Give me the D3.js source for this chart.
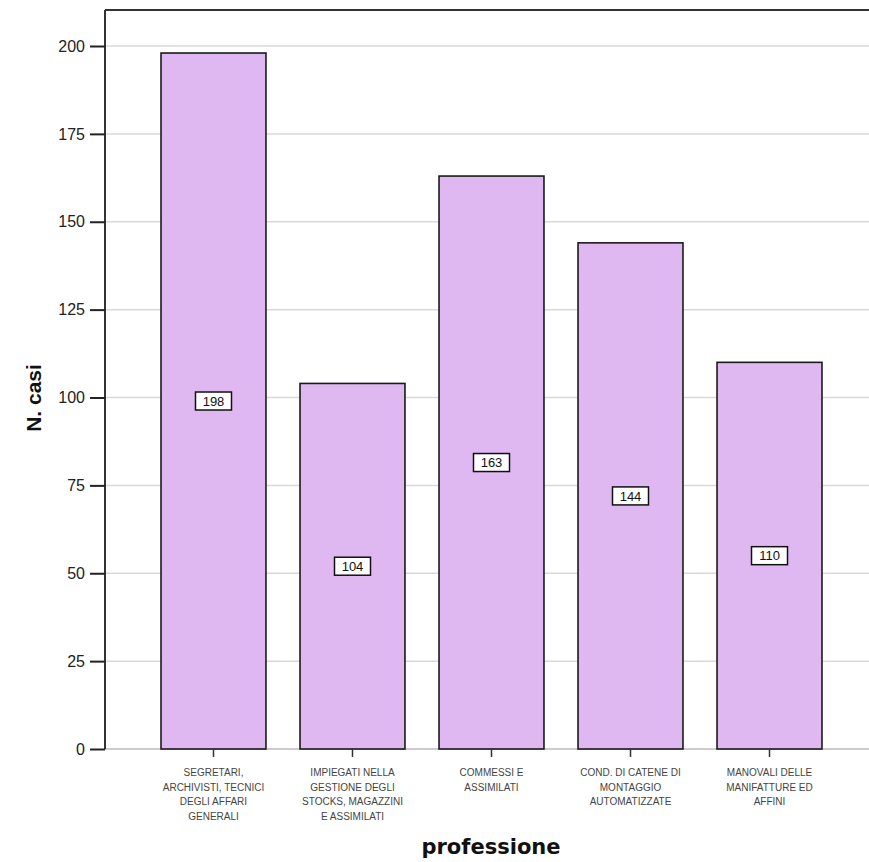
<!DOCTYPE html>
<html><head><meta charset="utf-8">
<script src="https://cdn.jsdelivr.net/npm/d3@7"></script>
<style>body{margin:0;background:#fff;} svg{display:block;}</style>
</head><body>
<script>
const categories = [
  ["SEGRETARI,","ARCHIVISTI, TECNICI","DEGLI AFFARI","GENERALI"],
  ["IMPIEGATI NELLA","GESTIONE DEGLI","STOCKS, MAGAZZINI","E ASSIMILATI"],
  ["COMMESSI E","ASSIMILATI"],
  ["COND. DI CATENE DI","MONTAGGIO","AUTOMATIZZATE"],
  ["MANOVALI DELLE","MANIFATTURE ED","AFFINI"]
];
const values = [198, 104, 163, 144, 110];
const yTicks = [0, 25, 50, 75, 100, 125, 150, 175, 200];
const xTitle = "professione";
const yTitle = "N. casi";

(function() {
const W = 869, H = 862;
const svg = d3.select("body").append("svg").attr("width", W).attr("height", H);
const mLeft = 105, mTop = 10, mBottom = 749, mRight = 878;

const x = d3.scaleBand().domain(d3.range(values.length)).range([mLeft, mRight])
  .paddingInner(0.245).paddingOuter(0.403);
const y = d3.scaleLinear().domain([0, 200]).range([mBottom, 46]);

// grid
svg.append("g").selectAll("line").data(yTicks.filter(d => d > 0)).join("line")
  .attr("x1", mLeft).attr("x2", W).attr("y1", d => y(d)).attr("y2", d => y(d))
  .attr("stroke", "#d9d9d9").attr("stroke-width", 1.5);

// frame top
svg.append("line").attr("x1", mLeft).attr("x2", W).attr("y1", mTop).attr("y2", mTop)
  .attr("stroke", "#333").attr("stroke-width", 2);
// bottom baseline
svg.append("line").attr("x1", mLeft).attr("x2", W).attr("y1", mBottom).attr("y2", mBottom)
  .attr("stroke", "#bbb").attr("stroke-width", 1.5);

// bars
svg.append("g").selectAll("rect").data(values).join("rect")
  .attr("x", (d, i) => x(i)).attr("width", x.bandwidth())
  .attr("y", d => y(d)).attr("height", d => y(0) - y(d))
  .attr("fill", "#dfb8f2").attr("stroke", "#1a1a1a").attr("stroke-width", 1.6);

// y axis
const yAxis = d3.axisLeft(y).tickValues(yTicks).tickSize(15).tickPadding(5);
const ga = svg.append("g").attr("transform", `translate(${mLeft},0)`).call(yAxis);
ga.select(".domain").attr("d", `M0,${mTop}V${mBottom}`).attr("stroke", "#333").attr("stroke-width", 2);
ga.selectAll(".tick line").attr("stroke", "#222").attr("stroke-width", 2);
ga.selectAll(".tick text").attr("font-family", "Liberation Sans, Arial, sans-serif")
  .attr("font-size", 16).attr("fill", "#222");

// x ticks
const gx = svg.append("g").selectAll("g").data(categories).join("g")
  .attr("transform", (d, i) => `translate(${x(i) + x.bandwidth() / 2},0)`);
gx.append("line").attr("y1", mBottom).attr("y2", mBottom + 8).attr("stroke", "#333").attr("stroke-width", 1.5);
gx.each(function(lines) {
  const t = d3.select(this).append("text").attr("text-anchor", "middle")
    .attr("font-family", "Liberation Sans, Arial, sans-serif").attr("font-size", 10).attr("fill", "#444");
  lines.forEach((l, j) => t.append("tspan").attr("x", 0).attr("y", 776 + j * 14.5).text(l));
});

// value labels
const lab = svg.append("g").selectAll("g").data(values).join("g")
  .attr("transform", (d, i) => `translate(${x(i) + x.bandwidth() / 2},${y(d / 2)})`);
lab.append("rect").attr("x", -18).attr("y", -9).attr("width", 36).attr("height", 18)
  .attr("fill", "#fff").attr("stroke", "#111").attr("stroke-width", 1.5);
lab.append("text").attr("text-anchor", "middle").attr("dy", "0.36em")
  .attr("font-family", "Liberation Sans, Arial, sans-serif").attr("font-size", 13).attr("fill", "#111")
  .text(d => d);

// titles
svg.append("text").attr("x", 491).attr("y", 854).attr("text-anchor", "middle")
  .attr("font-family", "DejaVu Sans, Verdana, sans-serif").attr("font-weight", "bold")
  .attr("font-size", 21).attr("fill", "#111").text(xTitle);
svg.append("text").attr("transform", "translate(41,398) rotate(-90)").attr("text-anchor", "middle")
  .attr("font-family", "Liberation Sans, Arial, sans-serif").attr("font-weight", "bold")
  .attr("font-size", 21).attr("fill", "#111").text(yTitle);
})();
</script>
</body></html>
